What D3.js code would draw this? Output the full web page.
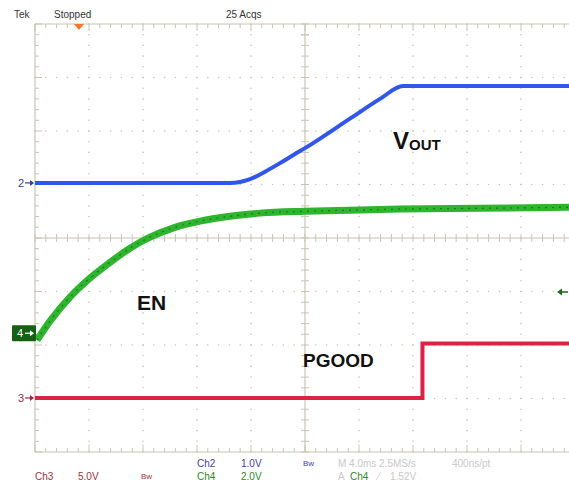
<!DOCTYPE html>
<html>
<head>
<meta charset="utf-8">
<script src="https://cdn.jsdelivr.net/npm/d3@7"></script>
<style>
body{margin:0;background:#fff;}
svg{display:block;font-family:"Liberation Sans",Arial,sans-serif;}
</style>
</head>
<body>
<svg id="scope" width="569" height="487"></svg>
<script>
// time in ms (4 ms/div, trigger at 0), voltages in volts
var ch2_t = [-20, -5.56, -4.07, -2.96, -1.85, -0.74, 0, 3.33, 5.56, 7.26, 20];
var ch2_v = [0, 0, 0.07, 0.21, 0.37, 0.54, 0.65, 1.2, 1.57, 1.81, 1.81];

var ch4_t = [-19.85, -18.89, -17.41, -15.93, -14.44, -12.96, -11.48, -9.63, -7.78, -5.56, -3.33, 0, 3.33, 7.04, 12.96, 20];
var ch4_v = [-0.26, 0.45, 1.35, 2.06, 2.65, 3.18, 3.59, 3.96, 4.19, 4.37, 4.49, 4.56, 4.6, 4.64, 4.67, 4.71];

var ch3_t = [-20, 8.7, 8.7, 20];
var ch3_v = [0, 0, 5.1, 5.1];

// volts per division and ground offsets (divisions from centre)
var ch2_scale = 1.0, ch2_offset = 1.03;
var ch4_scale = 2.0, ch4_offset = -1.78;
var ch3_scale = 5.0, ch3_offset = -2.99;

var svg = d3.select('#scope');
var plotLeft = 35, plotTop = 24, divW = 54, divH = 53.5;

var x = d3.scaleLinear().domain([-20, 20]).range([plotLeft, plotLeft + 10 * divW]);
var y = d3.scaleLinear().domain([-4, 4]).range([plotTop + 8 * divH, plotTop]);

var grid = '#c9c5b2';
var g = svg.append('g');

// dotted grid
for (var i = 1; i < 10; i++) {
  if (i == 5) continue;
  for (var k = 0; k <= 40; k++) {
    g.append('circle').attr('cx', x(-20 + i * 4)).attr('cy', y(-4 + k * 0.2)).attr('r', 0.8).attr('fill', grid);
  }
}
for (var j = 1; j < 8; j++) {
  if (j == 4) continue;
  for (var k = 0; k <= 50; k++) {
    g.append('circle').attr('cx', x(-20 + k * 0.8)).attr('cy', y(-4 + j)).attr('r', 0.8).attr('fill', grid);
  }
}

// border and centre cross
g.append('line').attr('x1', x(-20)).attr('x2', x(20)).attr('y1', y(4)).attr('y2', y(4)).attr('stroke', grid).attr('stroke-width', 1.2);
g.append('line').attr('x1', x(-20)).attr('x2', x(20)).attr('y1', y(-4)).attr('y2', y(-4)).attr('stroke', grid).attr('stroke-width', 1.2);
g.append('line').attr('x1', x(-20)).attr('x2', x(-20)).attr('y1', y(4)).attr('y2', y(-4)).attr('stroke', grid).attr('stroke-width', 1.2);
g.append('line').attr('x1', x(-20)).attr('x2', x(20)).attr('y1', y(0)).attr('y2', y(0)).attr('stroke', grid).attr('stroke-width', 1.2);
g.append('line').attr('x1', x(0)).attr('x2', x(0)).attr('y1', y(4)).attr('y2', y(-4)).attr('stroke', grid).attr('stroke-width', 1.2);

// minor ticks along the edges and the centre cross
for (var k = 0; k <= 50; k++) {
  var tx = x(-20 + k * 0.8), major = k % 5 == 0, len = major ? 7 : 4;
  g.append('line').attr('x1', tx).attr('x2', tx).attr('y1', y(4)).attr('y2', y(4) + len).attr('stroke', grid);
  g.append('line').attr('x1', tx).attr('x2', tx).attr('y1', y(-4)).attr('y2', y(-4) - len).attr('stroke', grid);
  g.append('line').attr('x1', tx).attr('x2', tx).attr('y1', y(0) - 4).attr('y2', y(0) + 4).attr('stroke', grid);
}
for (var k = 0; k <= 40; k++) {
  var ty = y(-4 + k * 0.2), major = k % 5 == 0, len = major ? 7 : 4;
  g.append('line').attr('x1', x(-20)).attr('x2', x(-20) + len).attr('y1', ty).attr('y2', ty).attr('stroke', grid);
  g.append('line').attr('x1', x(0) - 4).attr('x2', x(0) + 4).attr('y1', ty).attr('y2', ty).attr('stroke', grid);
}

function trace(ts, vs, sc, off) {
  return d3.line().x(function (d, i) { return x(ts[i]); })
    .y(function (d, i) { return y(vs[i] / sc + off); })
    .curve(d3.curveMonotoneX)(ts);
}
function steps(ts, vs, sc, off) {
  return d3.line().x(function (d, i) { return x(ts[i]); })
    .y(function (d, i) { return y(vs[i] / sc + off); })(ts);
}

svg.append('path').attr('d', trace(ch4_t, ch4_v, ch4_scale, ch4_offset)).attr('fill', 'none')
  .attr('stroke', '#2db52d').attr('stroke-width', 7);
svg.append('path').attr('d', trace(ch4_t, ch4_v, ch4_scale, ch4_offset)).attr('fill', 'none')
  .attr('stroke', '#1d4a1d').attr('stroke-width', 1.2).attr('stroke-dasharray', '2,5').attr('opacity', 0.6);
svg.append('path').attr('d', trace(ch2_t, ch2_v, ch2_scale, ch2_offset)).attr('fill', 'none')
  .attr('stroke', '#3056ec').attr('stroke-width', 4);
svg.append('path').attr('d', steps(ch3_t, ch3_v, ch3_scale, ch3_offset)).attr('fill', 'none')
  .attr('stroke', '#dc2343').attr('stroke-width', 4);

// channel ground markers
function arrowRight(x0, yc, col) {
  svg.append('path').attr('d', 'M' + x0 + ',' + yc + ' h7').attr('stroke', col).attr('stroke-width', 1.2);
  svg.append('path').attr('d', 'M' + (x0 + 9) + ',' + yc + ' l-4,-3 v6 Z').attr('fill', col);
}
svg.append('text').attr('x', 18).attr('y', y(ch2_offset) + 4).attr('font-size', 11).attr('fill', '#3a3aa0').text('2');
arrowRight(25, y(ch2_offset), '#3a3aa0');
svg.append('text').attr('x', 18).attr('y', y(ch3_offset) + 4).attr('font-size', 11).attr('fill', '#a02a40').text('3');
arrowRight(25, y(ch3_offset), '#a02a40');
svg.append('rect').attr('x', 12).attr('y', y(ch4_offset) - 8).attr('width', 24).attr('height', 16).attr('rx', 1).attr('fill', '#156015');
svg.append('text').attr('x', 17).attr('y', y(ch4_offset) + 4).attr('font-size', 11).attr('fill', '#fff').text('4');
arrowRight(25, y(ch4_offset), '#fff');
// trigger level arrow on the right
svg.append('path').attr('d', 'M560,292 h8').attr('stroke', '#1c6a1c').attr('stroke-width', 1.5);
svg.append('path').attr('d', 'M557,292 l5,-3.5 v7 Z').attr('fill', '#1c6a1c');

// trigger position marker
svg.append('path').attr('d', 'M74,24 L84,24 L79,30 Z').attr('fill', '#f07828');
svg.append('line').attr('x1', x(0) - 4).attr('x2', x(0) + 4).attr('y1', 35).attr('y2', 35).attr('stroke', grid);

// header
svg.append('text').attr('x', 14).attr('y', 18).attr('font-size', 10).attr('fill', '#333').text('Tek');
svg.append('text').attr('x', 54).attr('y', 18).attr('font-size', 10).attr('fill', '#333').text('Stopped');
svg.append('text').attr('x', 226).attr('y', 18).attr('font-size', 10).attr('fill', '#333').text('25 Acqs');

// signal labels
var vout = svg.append('text').attr('x', 393).attr('y', 149).attr('font-size', 24).attr('font-weight', 'bold').attr('fill', '#111');
vout.append('tspan').text('V');
vout.append('tspan').attr('font-size', 15).attr('dy', 1).text('OUT');
svg.append('text').attr('x', 137).attr('y', 310).attr('font-size', 21).attr('font-weight', 'bold').attr('fill', '#111').text('EN');
svg.append('text').attr('x', 303).attr('y', 367).attr('font-size', 19).attr('font-weight', 'bold').attr('fill', '#111').text('PGOOD');

// footer readouts
var fs = 10;
svg.append('text').attr('x', 35).attr('y', 480).attr('font-size', fs).attr('fill', '#a03040').text('Ch3');
svg.append('text').attr('x', 78).attr('y', 480).attr('font-size', fs).attr('fill', '#a03040').text('5.0V');
svg.append('text').attr('x', 141).attr('y', 479).attr('font-size', 8).attr('fill', '#a03040').text('Bw');
svg.append('text').attr('x', 197).attr('y', 467).attr('font-size', fs).attr('fill', '#4040b0').text('Ch2');
svg.append('text').attr('x', 241).attr('y', 467).attr('font-size', fs).attr('fill', '#4040b0').text('1.0V');
svg.append('text').attr('x', 197).attr('y', 480).attr('font-size', fs).attr('fill', '#2a8a2a').text('Ch4');
svg.append('text').attr('x', 241).attr('y', 480).attr('font-size', fs).attr('fill', '#2a8a2a').text('2.0V');
svg.append('text').attr('x', 303).attr('y', 466).attr('font-size', 8).attr('fill', '#4040b0').text('Bw');
svg.append('text').attr('x', 338).attr('y', 467).attr('font-size', fs).attr('fill', '#c8c8c8').text('M 4.0ms 2.5MS/s');
svg.append('text').attr('x', 452).attr('y', 467).attr('font-size', fs).attr('fill', '#c8c8c8').text('400ns/pt');
svg.append('text').attr('x', 338).attr('y', 480).attr('font-size', fs).attr('fill', '#c8c8c8').text('A');
svg.append('text').attr('x', 350).attr('y', 480).attr('font-size', fs).attr('fill', '#2a8a2a').text('Ch4');
svg.append('text').attr('x', 378).attr('y', 480).attr('font-size', fs).attr('fill', '#c8c8c8').text('⁄');
svg.append('text').attr('x', 390).attr('y', 480).attr('font-size', fs).attr('fill', '#c8c8c8').text('1.52V');
</script>
</body>
</html>
